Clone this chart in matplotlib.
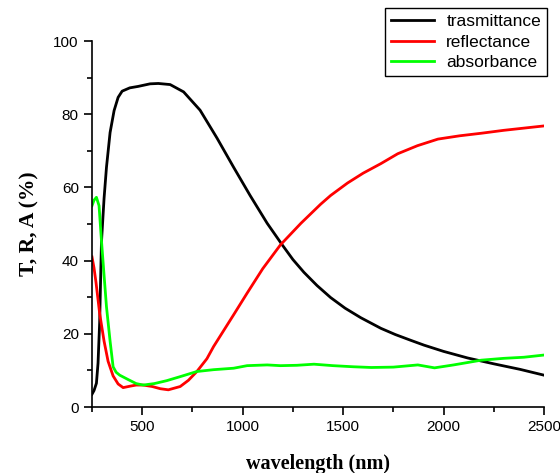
import numpy as np
import matplotlib.pyplot as plt

# wavelength (nm) and T / R / A (%)
wl_t = [250, 260, 272, 280, 288, 297, 310, 322, 340, 360, 380, 400, 438, 480, 539, 580,
        639, 706, 788, 872, 955, 1037, 1122, 1197, 1250, 1305, 1370, 1438, 1510, 1588,
        1688, 1760, 1838, 1903, 2000, 2120, 2250, 2380, 2500]
trans = [3.5, 4.5, 6.5, 12, 23, 45, 57, 65.5, 75, 81, 84.6, 86.3, 87.2, 87.6, 88.3, 88.4,
         88.1, 86.1, 81.1, 73.5, 65.5, 57.8, 50.2, 44.3, 40.3, 36.8, 33.2, 29.9, 27, 24.4,
         21.5, 19.8, 18.2, 16.9, 15.2, 13.4, 11.8, 10.3, 8.7]

wl_r = [250, 260, 270, 288, 310, 330, 355, 380, 405, 440, 470, 505, 550, 590, 630, 689,
        730, 772, 822, 855, 955, 1022, 1100, 1188, 1290, 1388, 1438, 1522, 1600, 1688,
        1772, 1870, 1972, 2080, 2188, 2300, 2400, 2500]
refl = [41, 38, 34, 25.6, 18, 12.5, 8.5, 6.3, 5.3, 5.7, 6.0, 6.0, 5.6, 5.0, 4.7, 5.6,
        7.3, 9.7, 13.2, 16.5, 25.2, 31.1, 37.8, 44.3, 50.2, 55.4, 57.8, 61.2, 63.9, 66.5,
        69.2, 71.4, 73.2, 74.1, 74.8, 75.6, 76.2, 76.8]

wl_a = [250, 260, 272, 285, 297, 310, 322, 340, 355, 370, 388, 430, 470, 505, 560, 622,
        689, 772, 855, 955, 1022, 1122, 1188, 1270, 1355, 1450, 1550, 1640, 1750, 1872,
        1955, 2050, 2188, 2300, 2400, 2500]
absb = [55, 56.5, 57.3, 55, 45.5, 36, 27.4, 18, 11, 9.5, 8.7, 7.5, 6.4, 6.0, 6.4, 7.2,
        8.3, 9.7, 10.2, 10.6, 11.3, 11.5, 11.3, 11.4, 11.7, 11.3, 11.0, 10.8, 10.9, 11.5,
        10.7, 11.5, 12.8, 13.3, 13.6, 14.2]

plt.rcParams['font.family'] = ['Liberation Sans', 'DejaVu Sans']

fig = plt.figure(figsize=(5.6, 4.73), dpi=100)
ax = fig.add_axes([0.1643, 0.1395, 0.8071, 0.7738])

ax.plot(wl_t, trans, color='black', lw=2, label='trasmittance')
ax.plot(wl_r, refl, color='#ff0000', lw=2, label='reflectance')
ax.plot(wl_a, absb, color='#00ff00', lw=2, label='absorbance')

ax.set_xlim(250, 2500)
ax.set_ylim(0, 100)
ax.set_xticks([500, 1000, 1500, 2000, 2500])
ax.set_xticks(np.arange(250, 2501, 250), minor=True)
ax.set_yticks([0, 20, 40, 60, 80, 100])
ax.set_yticks(np.arange(0, 101, 10), minor=True)

for side in ['top', 'right']:
    ax.spines[side].set_visible(False)
for side in ['left', 'bottom']:
    ax.spines[side].set_linewidth(1.2)
ax.tick_params(which='major', direction='out', length=6, width=1.2, labelsize=11)
ax.tick_params(which='minor', direction='out', length=3.5, width=1.2)

ax.set_xlabel('wavelength (nm)', fontfamily='Liberation Serif', fontweight='bold',
              fontsize=14.5, labelpad=14)
ax.set_ylabel('T, R, A (%)', fontfamily='Liberation Serif', fontweight='bold',
              fontsize=15.5, labelpad=10)

leg = ax.legend(loc='upper right', bbox_to_anchor=(0.977, 0.983),
                bbox_transform=fig.transFigure, borderaxespad=0, fontsize=12.5,
                fancybox=False, framealpha=1, handlelength=2.5, labelspacing=0.3,
                borderpad=0.35, handletextpad=0.7)
leg.get_frame().set_edgecolor('black')
leg.get_frame().set_linewidth(1)

fig.savefig('out.png', dpi=100)
